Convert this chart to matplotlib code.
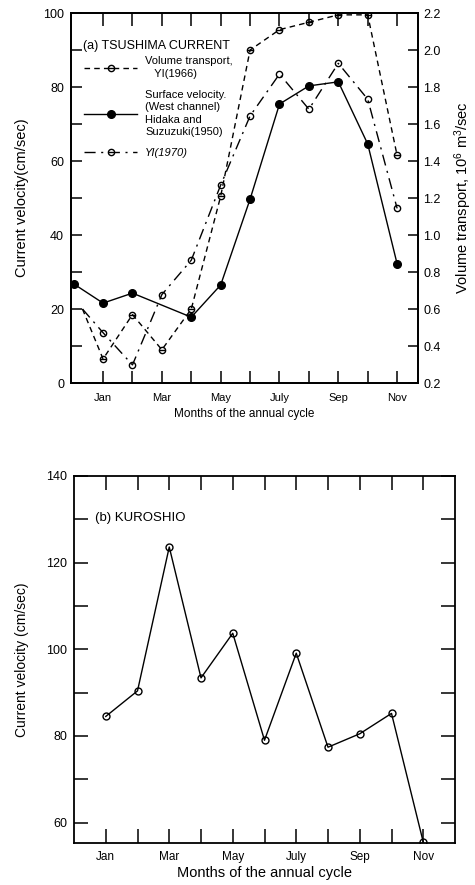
import numpy as np
import matplotlib
matplotlib.use("Agg")
import matplotlib.pyplot as plt
from matplotlib.lines import Line2D
from matplotlib.ticker import MultipleLocator, FixedLocator

plt.rcParams['font.family'] = ['Liberation Sans', 'DejaVu Sans']
plt.rcParams['mathtext.default'] = 'regular'

# (a) Tsushima current
tick_months = [1, 2, 3, 4, 5, 6, 7, 8, 9, 10, 11]
tick_names = ['Jan', '', 'Mar', '', 'May', '', 'July', '', 'Sep', '', 'Nov']

hidaka_month = [0, 1, 2, 4, 5, 6, 7, 8, 9, 10, 11]
hidaka_vel = [26.8, 21.6, 24.3, 17.8, 26.5, 49.7, 75.4, 80.3, 81.4, 64.6, 32.2]

yi66_month = [0.3, 1, 2, 3, 4, 5, 6, 7, 8, 9, 10, 11]
yi66_transport = [0.60, 0.33, 0.57, 0.38, 0.60, 1.21, 2.00, 2.11, 2.15, 2.19, 2.19, 1.43]

yi70_month = [0.3, 1, 2, 3, 4, 5, 6, 7, 8, 9, 10, 11]
yi70_vel = [20.0, 13.6, 4.9, 23.9, 33.2, 53.5, 72.2, 83.5, 74.0, 86.4, 76.7, 47.2]

# (b) Kuroshio
kuro_month = [1, 2, 3, 4, 5, 6, 7, 8, 9, 10, 11]
kuro_vel = [84.5, 90.4, 123.6, 93.4, 103.7, 79.0, 99.1, 77.4, 80.5, 85.2, 55.5]

dash66 = (0, (4, 3))
dash70 = (0, (8, 4, 1.5, 4))

fig = plt.figure(figsize=(4.75, 8.85), dpi=100)

# ---------------- top panel ----------------
ax = fig.add_axes([0.1495, 0.5672, 0.7305, 0.4181])
ax2 = ax.twinx()

ax.plot(hidaka_month, hidaka_vel, color='k', lw=1.0, marker='o', ms=5.5,
        mfc='k', mec='k', zorder=3)
ax.plot(yi70_month[1:], yi70_vel[1:], ls='none', marker='o', ms=4.5,
        mfc='none', mec='k', mew=1.0)
ax.plot(yi70_month, yi70_vel, color='k', lw=1.0, ls=dash70)

ax2.plot(yi66_month, yi66_transport, color='k', lw=1.0, ls=dash66)
ax2.plot(yi66_month[1:], yi66_transport[1:], ls='none', marker='o', ms=4.5,
         mfc='none', mec='k', mew=1.0)
ax2.plot(yi66_month[1:], yi66_transport[1:], ls='none', marker='_', ms=4.5,
         mec='k', mew=1.0)

ax.set_xlim(-0.09, 11.71)
ax.set_ylim(0, 100)
ax2.set_ylim(0.2, 2.2)

ax.xaxis.set_major_locator(FixedLocator(tick_months))
ax.set_xticklabels(tick_names, fontsize=8)
ax.yaxis.set_major_locator(MultipleLocator(20))
ax.yaxis.set_minor_locator(MultipleLocator(10))
ax.tick_params(axis='x', which='major', direction='in', length=9, width=1.1,
               top=True, pad=7)
ax.tick_params(axis='y', which='both', direction='in', length=8, width=1.1,
               labelsize=9, pad=5)
ax2.tick_params(axis='y', direction='in', length=7, width=1.1, labelsize=9, pad=4)
ax2.set_yticks(np.arange(0.2, 2.21, 0.2))
ax2.set_yticklabels(['%.1f' % v for v in np.arange(0.2, 2.21, 0.2)])

for sp in ax.spines.values():
    sp.set_linewidth(1.3)
for sp in ax2.spines.values():
    sp.set_linewidth(1.3)

ax.set_ylabel('Current velocity(cm/sec)', fontsize=10.5, labelpad=10)
ax2.set_ylabel('Volume transport, 10$^6$ m$^3$/sec', fontsize=10.5, labelpad=8)
ax.set_xlabel('Months of the annual cycle', fontsize=8.5, labelpad=4)

ax.text(0.035, 0.912, '(a) TSUSHIMA CURRENT', transform=ax.transAxes,
        fontsize=9, va='center', ha='left')

h66 = (Line2D([], [], color='k', lw=1.0, ls=dash66, marker='o', ms=4.5,
              mfc='none', mec='k'),
       Line2D([], [], ls='none', marker='_', ms=4.5, mec='k'))
h_hid = Line2D([], [], color='k', lw=1.0, marker='o', ms=5.5, mfc='k')
h70 = Line2D([], [], color='k', lw=1.0, ls=dash70, marker='o', ms=4.5,
             mfc='none', mec='k')
leg = ax.legend([h66, h_hid, h70],
                ['Volume transport,\n   YI(1966)',
                 'Surface velocity.\n(West channel)\nHidaka and\nSuzuzuki(1950)',
                 'YI(1970)'],
                loc='upper left', bbox_to_anchor=(0.025, 0.895), frameon=False,
                handlelength=4.8, handletextpad=0.7, labelspacing=1.0,
                numpoints=1, fontsize=8, borderaxespad=0)
for t in leg.get_texts():
    t.set_linespacing(1.3)
leg.get_texts()[2].set_fontstyle('italic')

# ---------------- bottom panel ----------------
bx = fig.add_axes([0.1558, 0.0475, 0.8021, 0.4147])
bx.plot(kuro_month, kuro_vel, color='k', lw=1.0, marker='o', ms=5,
        mfc='none', mec='k', mew=1.0)
bx.set_xlim(0, 12)
bx.set_ylim(55.3, 140)
bx.xaxis.set_major_locator(FixedLocator(tick_months))
bx.set_xticklabels(tick_names, fontsize=8.5)
bx.yaxis.set_major_locator(MultipleLocator(20))
bx.yaxis.set_minor_locator(MultipleLocator(10))
bx.tick_params(axis='x', direction='in', length=10, width=1.1, top=True, pad=6)
bx.tick_params(axis='y', which='both', direction='in', length=10, width=1.1,
               right=True, labelsize=9, pad=5)
for sp in bx.spines.values():
    sp.set_linewidth(1.3)
bx.set_ylabel('Current velocity (cm/sec)', fontsize=10, labelpad=12)
bx.set_xlabel('Months of the annual cycle', fontsize=10.5, labelpad=2)
bx.text(0.055, 0.885, '(b) KUROSHIO', transform=bx.transAxes,
        fontsize=9.5, va='center', ha='left')

fig.savefig('out.png', dpi=100)
